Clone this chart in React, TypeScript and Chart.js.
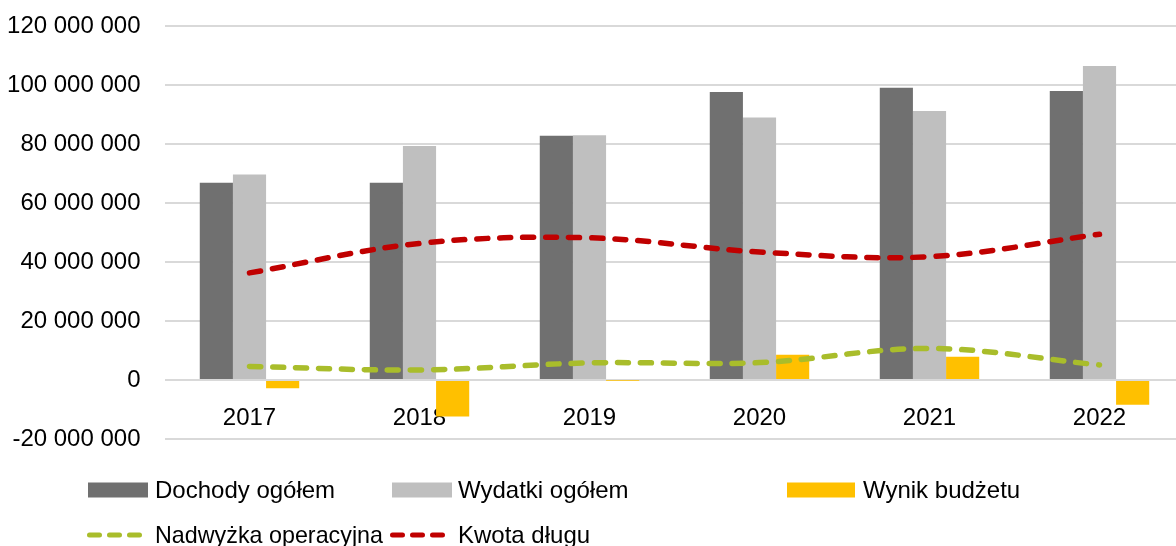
import React, { useEffect, useRef } from "react";
import { Chart, registerables } from "chart.js";

Chart.register(...registerables);

const years = ["2017", "2018", "2019", "2020", "2021", "2022"];
const dochody = [66900000, 66900000, 82800000, 97600000, 99100000, 98000000];
const wydatki = [69700000, 79300000, 83000000, 89000000, 91200000, 106400000];
const wynik = [-2800000, -12400000, -100000, 8600000, 7900000, -8400000];
const nadwyzka = [4600000, 3400000, 5800000, 5900000, 10700000, 5100000];
const dlug = [36300000, 46300000, 48200000, 43400000, 41800000, 49400000];

const seriesNames = [
  "Dochody ogółem",
  "Wydatki ogółem",
  "Wynik budżetu",
  "Nadwyżka operacyjna",
  "Kwota długu",
];
const colors = ["#707070", "#BFBFBF", "#FFC000", "#A9BD2B", "#C00000"];

const FONT = "'Liberation Sans', Arial, sans-serif";

function fmt(v: number): string {
  const s = String(Math.round(Math.abs(v))).replace(/\B(?=(\d{3})+(?!\d))/g, " ");
  return (v < 0 ? "-" : "") + s;
}

const legendPlugin = {
  id: "customLegend",
  afterDraw(chart: any) {
    const ctx = chart.ctx;
    ctx.save();
    ctx.font = `24px ${FONT}`;
    ctx.fillStyle = "#000";
    ctx.textBaseline = "middle";
    ctx.textAlign = "left";
    const row1 = 490;
    const row2 = 535;
    const boxes = [
      { x: 88, w: 60, tx: 155, i: 0 },
      { x: 392, w: 60, tx: 458, i: 1 },
      { x: 787, w: 68, tx: 863, i: 2 },
    ];
    boxes.forEach((b) => {
      ctx.fillStyle = colors[b.i];
      ctx.fillRect(b.x, row1 - 7.5, b.w, 15);
      ctx.fillStyle = "#000";
      ctx.fillText(seriesNames[b.i], b.tx, row1 + 1);
    });
    const lines = [
      { x: 89.5, tx: 155, i: 3, mw: 228 },
      { x: 392.5, tx: 458, i: 4, mw: 400 },
    ];
    lines.forEach((l) => {
      ctx.strokeStyle = colors[l.i];
      ctx.lineWidth = 5;
      ctx.lineCap = "round";
      ctx.setLineDash([10, 10]);
      ctx.beginPath();
      ctx.moveTo(l.x, row2);
      ctx.lineTo(l.x + 51, row2);
      ctx.stroke();
      ctx.setLineDash([]);
      ctx.fillStyle = "#000";
      ctx.fillText(seriesNames[l.i], l.tx, row2 + 1, l.mw);
    });
    ctx.restore();
  },
};

export default function App() {
  const ref = useRef<HTMLCanvasElement>(null);
  useEffect(() => {
    if (!ref.current) return;
    const lineDs = (i: number, data: number[]) => ({
      type: "line" as const,
      label: seriesNames[i],
      data,
      borderColor: colors[i],
      backgroundColor: colors[i],
      borderWidth: 5.5,
      borderDash: [11, 12],
      borderCapStyle: "round" as const,
      pointRadius: 0,
      tension: 0.35,
      fill: false,
      order: 0,
    });
    const barDs = (i: number, data: number[]) => ({
      type: "bar" as const,
      label: seriesNames[i],
      data,
      backgroundColor: colors[i],
      borderWidth: 0,
      barPercentage: 1,
      categoryPercentage: 0.585,
      order: 1,
    });
    const chart = new Chart(ref.current, {
      type: "bar",
      data: {
        labels: years,
        datasets: [
          barDs(0, dochody),
          barDs(1, wydatki),
          barDs(2, wynik),
          lineDs(3, nadwyzka),
          lineDs(4, dlug),
        ] as any,
      },
      options: {
        responsive: false,
        maintainAspectRatio: false,
        devicePixelRatio: 1,
        animation: false,
        layout: { padding: { top: 26, bottom: 107, left: 0, right: 15.5 } },
        plugins: {
          legend: { display: false },
          tooltip: { enabled: false },
        },
        scales: {
          x: {
            position: { y: 0 } as any,
            grid: { display: false },
            border: { display: false },
            ticks: {
              font: { family: FONT, size: 24 },
              color: "#000",
              padding: 16,
              maxRotation: 0,
            },
          },
          y: {
            min: -20000000,
            max: 120000000,
            grid: { color: "#D9D9D9", lineWidth: 2, drawTicks: false },
            border: { display: false },
            ticks: {
              stepSize: 20000000,
              font: { family: FONT, size: 24 },
              color: "#000",
              padding: 24,
              callback: (v: any) => fmt(Number(v)),
            },
            afterFit: (scale: any) => {
              scale.width = 164.5;
              scale.paddingTop = 0;
              scale.paddingBottom = 0;
            },
          },
        },
      },
      plugins: [legendPlugin],
    });
    return () => chart.destroy();
  }, []);
  return (
    <div
      style={{
        position: "fixed",
        left: 0,
        top: 0,
        width: 1176,
        height: 546,
        overflow: "hidden",
        background: "#fff",
      }}
    >
      <canvas ref={ref} width={1200} height={546} style={{ display: "block" }} />
    </div>
  );
}
